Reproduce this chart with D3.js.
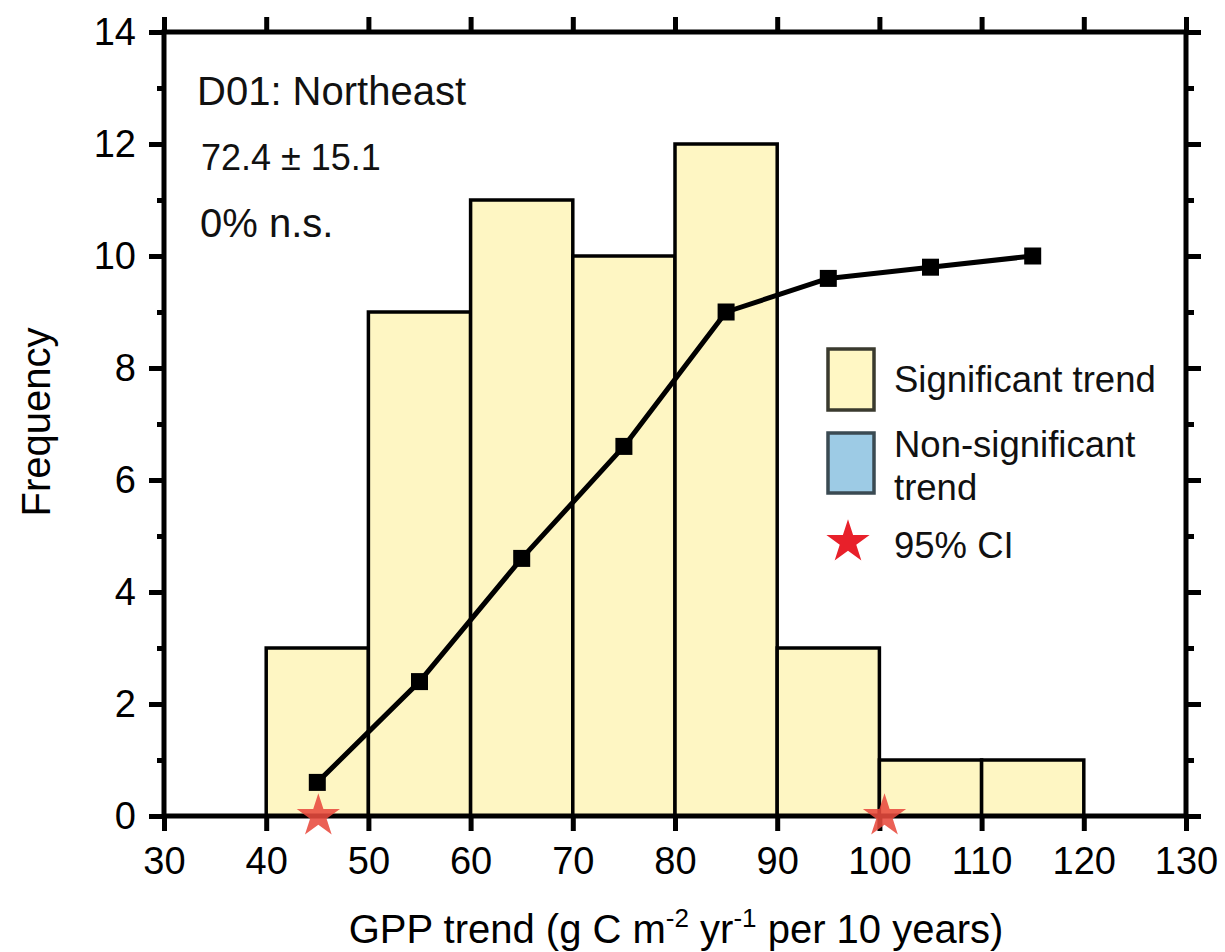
<!DOCTYPE html>
<html>
<head>
<meta charset="utf-8">
<script src="https://cdn.jsdelivr.net/npm/d3@7"></script>
<style>
  html, body { margin: 0; padding: 0; background: #fff; }
  svg { display: block; font-family: "Liberation Sans", Arial, sans-serif; }
</style>
</head>
<body>
<svg id="chart" width="1225" height="952"></svg>
<script>
// Histogram of GPP trends (bin edges and counts)
const binStarts = [40, 50, 60, 70, 80, 90, 100, 110];
const binWidth = 10;
const counts = [3, 9, 11, 10, 12, 3, 1, 1];

// Cumulative curve plotted at bin centres
const curveX = [45, 55, 65, 75, 85, 95, 105, 115];
const curveY = [0.6, 2.4, 4.6, 6.6, 9.0, 9.6, 9.8, 10.0];

// 95% confidence interval bounds
const ciBounds = [45.1, 100.5];

// Axis ticks
const xTicks = [30, 40, 50, 60, 70, 80, 90, 100, 110, 120, 130];
const yMajor = [0, 2, 4, 6, 8, 10, 12, 14];
const yMinor = [1, 3, 5, 7, 9, 11, 13];

const svg = d3.select("#chart");
const plotL = 164, plotR = 1186, plotT = 32, plotB = 816;

const x = d3.scaleLinear().domain([30, 130]).range([plotL, plotR]);
const y = d3.scaleLinear().domain([0, 14]).range([plotB, plotT]);

const barFill = "#FEF6C3";

// Bars
svg.append("g").selectAll("rect")
  .data(binStarts.map((s, i) => ({ s, c: counts[i] })))
  .join("rect")
  .attr("x", d => x(d.s))
  .attr("y", d => y(d.c))
  .attr("width", d => x(d.s + binWidth) - x(d.s))
  .attr("height", d => y(0) - y(d.c))
  .attr("fill", barFill)
  .attr("stroke", "#000")
  .attr("stroke-width", 3.5);

// Cumulative line with square markers
const pts = curveX.map((v, i) => [v, curveY[i]]);
svg.append("path")
  .datum(pts)
  .attr("fill", "none")
  .attr("stroke", "#000")
  .attr("stroke-width", 5)
  .attr("stroke-linejoin", "round")
  .attr("d", d3.line().x(d => x(d[0])).y(d => y(d[1])));

const ms = 17;
svg.append("g").selectAll("rect")
  .data(pts)
  .join("rect")
  .attr("x", d => x(d[0]) - ms / 2)
  .attr("y", d => y(d[1]) - ms / 2)
  .attr("width", ms)
  .attr("height", ms)
  .attr("fill", "#000");

// Frame
svg.append("rect")
  .attr("x", plotL).attr("y", plotT)
  .attr("width", plotR - plotL).attr("height", plotB - plotT)
  .attr("fill", "none")
  .attr("stroke", "#000")
  .attr("stroke-width", 5);

function styleAxis(g, fontSize) {
  g.select(".domain").remove();
  g.selectAll(".tick line").attr("stroke", "#000").attr("stroke-width", 5);
  g.selectAll(".tick text")
    .attr("fill", "#000")
    .style("font-size", fontSize + "px")
    .style("font-family", "'Liberation Sans', Arial, sans-serif");
}

// Bottom axis
svg.append("g")
  .attr("transform", `translate(0,${plotB})`)
  .call(d3.axisBottom(x).tickValues(xTicks).tickSize(15).tickSizeOuter(0).tickPadding(16).tickFormat(d3.format("d")))
  .call(g => styleAxis(g, 38));

// Top axis (ticks only)
svg.append("g")
  .attr("transform", `translate(0,${plotT})`)
  .call(d3.axisTop(x).tickValues(xTicks).tickSize(15).tickSizeOuter(0).tickFormat(""))
  .call(g => styleAxis(g, 38));

// Left axis, major and minor ticks
svg.append("g")
  .attr("transform", `translate(${plotL},0)`)
  .call(d3.axisLeft(y).tickValues(yMajor).tickSize(15).tickSizeOuter(0).tickPadding(13).tickFormat(d3.format("d")))
  .call(g => styleAxis(g, 38));
svg.append("g")
  .attr("transform", `translate(${plotL},0)`)
  .call(d3.axisLeft(y).tickValues(yMinor).tickSize(7).tickSizeOuter(0).tickFormat(""))
  .call(g => styleAxis(g, 38));

// Right axis, major and minor ticks
svg.append("g")
  .attr("transform", `translate(${plotR},0)`)
  .call(d3.axisRight(y).tickValues(yMajor).tickSize(15).tickSizeOuter(0).tickFormat(""))
  .call(g => styleAxis(g, 38));
svg.append("g")
  .attr("transform", `translate(${plotR},0)`)
  .call(d3.axisRight(y).tickValues(yMinor).tickSize(8).tickSizeOuter(0).tickFormat(""))
  .call(g => styleAxis(g, 38));

// Confidence interval stars
const star = d3.symbol().type(d3.symbolStar).size(580);
svg.append("g").selectAll("path")
  .data(ciBounds)
  .join("path")
  .attr("transform", d => `translate(${x(d)},${y(0)})`)
  .attr("d", star)
  .attr("fill", "#E84A3E")
  .attr("fill-opacity", 0.88);

// Axis titles
const xTitle = svg.append("text")
  .attr("x", 676).attr("y", 943)
  .attr("text-anchor", "middle")
  .style("font-size", "40px")
  .attr("fill", "#000");
xTitle.append("tspan").text("GPP trend (g C m");
xTitle.append("tspan").attr("dy", -16).style("font-size", "26px").text("-2");
xTitle.append("tspan").attr("dy", 16).text(" yr");
xTitle.append("tspan").attr("dy", -16).style("font-size", "26px").text("-1");
xTitle.append("tspan").attr("dy", 16).text(" per 10 years)");

svg.append("text")
  .attr("transform", "translate(50,422) rotate(-90)")
  .attr("text-anchor", "middle")
  .style("font-size", "40px")
  .attr("fill", "#000")
  .text("Frequency");

// Region annotation
svg.append("text").attr("x", 197).attr("y", 105).style("font-size", "40px").attr("fill", "#111").text("D01: Northeast");
svg.append("text").attr("x", 201).attr("y", 170).style("font-size", "36px").attr("fill", "#111").text("72.4 ± 15.1");
svg.append("text").attr("x", 200).attr("y", 237).style("font-size", "40px").attr("fill", "#111").text("0% n.s.");

// Legend
const lg = svg.append("g");
lg.append("rect").attr("x", 828).attr("y", 349).attr("width", 46).attr("height", 61)
  .attr("fill", "#FFF7C4").attr("stroke", "#3A3A2E").attr("stroke-width", 3.5);
lg.append("rect").attr("x", 828).attr("y", 433).attr("width", 46).attr("height", 60)
  .attr("fill", "#9DCBE5").attr("stroke", "#3A4A52").attr("stroke-width", 3.5);
lg.append("path")
  .attr("transform", "translate(848,542)")
  .attr("d", star)
  .attr("fill", "#E8202A");
const legendText = [
  { t: "Significant trend", yy: 392 },
  { t: "Non-significant", yy: 457 },
  { t: "trend", yy: 500 },
  { t: "95% CI", yy: 558 }
];
lg.selectAll("text.lbl")
  .data(legendText)
  .join("text")
  .attr("class", "lbl")
  .attr("x", 894)
  .attr("y", d => d.yy)
  .style("font-size", "36.5px")
  .attr("fill", "#111")
  .text(d => d.t);
</script>
</body>
</html>
